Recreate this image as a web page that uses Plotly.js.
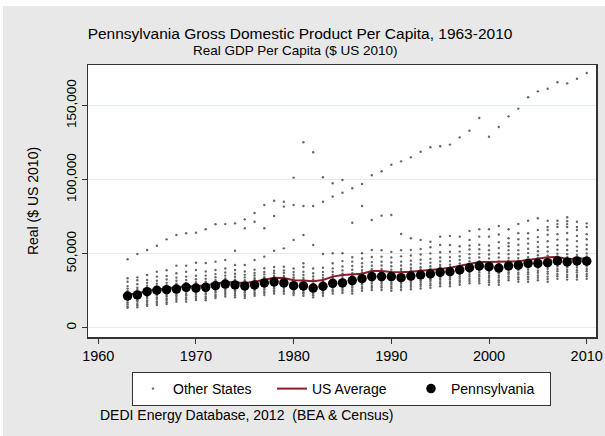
<!DOCTYPE html>
<html>
<head>
<meta charset="utf-8">
<script src="https://cdn.plot.ly/plotly-3.0.1.min.js"></script>
<style>
  html, body { margin: 0; padding: 0; background: #ffffff; }
  #chart { position: absolute; left: 3px; top: 6px; width: 602px; height: 430px; }
</style>
</head>
<body>
<div id="chart"></div>
<script>
// Years covered by the state series
const years = [1963, 1964, 1965, 1966, 1967, 1968, 1969, 1970, 1971, 1972,
  1973, 1974, 1975, 1976, 1977, 1978, 1979, 1980, 1981, 1982,
  1983, 1984, 1985, 1986, 1987, 1988, 1989, 1990, 1991, 1992,
  1993, 1994, 1995, 1996, 1997, 1998, 1999, 2000, 2001, 2002,
  2003, 2004, 2005, 2006, 2007, 2008, 2009, 2010];

// Pennsylvania real GDP per capita, thousands of 2010 dollars
const pennsylvaniaK = [21.4, 22.1, 24.3, 25.3, 25.7, 26.1, 27.3, 26.8, 27.3, 28.4,
  29.5, 28.9, 28.2, 28.9, 30.2, 30.9, 30.2, 28.4, 28.2, 26.8,
  28.0, 30.0, 30.2, 31.8, 33.1, 34.5, 34.5, 34.5, 33.8, 34.9,
  35.6, 36.3, 37.4, 37.8, 39.0, 40.5, 41.7, 41.2, 40.3, 41.7,
  42.2, 43.5, 43.5, 43.9, 45.1, 44.4, 45.1, 44.9];

// US average real GDP per capita, thousands of 2010 dollars
const usAverageK = [22.6, 23.0, 25.0, 25.9, 26.6, 27.3, 28.0, 28.0, 28.6, 29.5,
  30.9, 30.6, 30.2, 31.1, 32.7, 33.8, 33.6, 32.0, 31.8, 31.4,
  32.2, 34.5, 35.6, 36.3, 36.5, 38.3, 38.3, 37.6, 37.4, 37.8,
  38.3, 39.0, 39.7, 40.5, 41.7, 43.0, 44.4, 44.4, 44.4, 44.4,
  44.9, 45.7, 46.6, 47.6, 47.8, 46.4, 46.6, 46.9];

// Other states (and DC), one list per year, thousands of 2010 dollars
const otherStatesK = [
  [13.5, 14.4, 15.9, 17.0, 18.3, 19.1, 20.2, 21.1, 22.5, 23.4, 24.9, 26.4, 28.1, 31.0, 33.4, 46.2],
  [13.8, 15.1, 16.0, 17.6, 18.5, 19.9, 20.8, 21.9, 23.1, 24.0, 25.7, 27.0, 29.4, 32.0, 34.0, 49.8],
  [14.7, 15.8, 17.3, 18.3, 19.8, 20.7, 22.0, 22.9, 24.2, 25.4, 27.0, 28.4, 30.3, 32.3, 35.6, 52.5],
  [15.3, 16.7, 17.8, 19.3, 20.3, 21.7, 22.7, 24.0, 25.0, 26.5, 27.8, 29.7, 31.7, 34.5, 37.8, 55.4],
  [16.0, 17.2, 18.7, 19.8, 21.2, 22.2, 23.5, 24.5, 25.9, 27.1, 28.7, 30.3, 32.6, 35.0, 38.8, 59.7],
  [17.6, 18.9, 20.0, 21.4, 22.4, 23.8, 24.7, 26.1, 27.1, 28.6, 29.8, 31.7, 33.8, 36.8, 41.9, 62.6],
  [17.6, 19.1, 20.3, 21.8, 22.8, 24.2, 25.1, 26.5, 27.5, 29.0, 30.3, 32.3, 34.5, 37.8, 41.9, 63.8],
  [18.7, 20.0, 21.0, 22.4, 23.4, 24.7, 25.6, 26.9, 27.9, 29.4, 30.7, 32.7, 35.1, 39.0, 43.9, 64.2],
  [18.5, 19.9, 21.0, 22.5, 23.5, 24.9, 25.8, 27.2, 28.2, 29.7, 31.0, 33.0, 35.2, 38.0, 43.7, 66.5],
  [20.0, 21.3, 22.3, 23.7, 24.7, 26.1, 27.0, 28.3, 29.3, 30.8, 32.1, 34.1, 36.2, 39.0, 44.6, 69.9],
  [21.0, 22.3, 23.4, 24.8, 25.8, 27.1, 28.0, 29.4, 30.4, 31.9, 33.2, 35.2, 37.3, 40.0, 45.7, 70.0],
  [20.5, 21.8, 22.9, 24.3, 25.3, 26.6, 27.5, 28.8, 29.8, 31.3, 32.5, 34.4, 36.4, 39.0, 42.4, 52.0, 70.5],
  [20.0, 21.4, 22.5, 23.9, 24.9, 26.2, 27.1, 28.4, 29.4, 30.9, 32.1, 34.0, 35.7, 38.0, 42.4, 67.2, 73.2],
  [21.5, 22.8, 23.8, 25.2, 26.2, 27.5, 28.4, 29.7, 30.7, 32.2, 33.4, 35.3, 36.9, 39.2, 45.7, 71.6, 77.5],
  [22.0, 23.4, 24.5, 25.9, 26.9, 28.2, 29.1, 30.4, 31.4, 32.9, 34.1, 36.0, 37.7, 40.2, 48.0, 67.2, 82.9],
  [23.0, 24.3, 25.3, 26.7, 27.7, 29.0, 29.9, 31.2, 32.2, 33.7, 34.9, 36.8, 38.5, 41.0, 52.0, 75.5, 85.8],
  [23.0, 24.4, 25.4, 26.8, 27.8, 29.1, 30.0, 31.3, 32.3, 33.8, 35.0, 36.9, 38.7, 41.2, 53.6, 81.8, 85.1],
  [22.0, 23.3, 24.3, 25.7, 26.7, 28.0, 28.9, 30.2, 31.2, 32.7, 33.9, 35.8, 37.6, 40.0, 59.3, 82.9, 101.4],
  [21.5, 22.9, 23.9, 25.3, 26.3, 27.6, 28.5, 29.8, 30.8, 32.3, 33.6, 35.6, 37.8, 41.0, 43.5, 62.6, 82.2, 125.3],
  [20.5, 21.9, 22.9, 24.3, 25.3, 26.6, 27.5, 28.8, 29.8, 31.3, 32.6, 34.6, 36.8, 40.0, 55.9, 82.2, 118.5],
  [21.5, 22.9, 23.9, 25.3, 26.3, 27.6, 28.5, 29.9, 30.9, 32.4, 33.7, 35.7, 37.7, 40.5, 49.8, 85.1, 101.6],
  [23.0, 24.4, 25.5, 27.0, 28.0, 29.4, 30.3, 31.7, 32.7, 34.3, 35.7, 37.8, 40.1, 43.5, 50.3, 88.6, 97.6],
  [23.5, 25.0, 26.1, 27.6, 28.6, 30.0, 31.0, 32.4, 33.5, 35.1, 36.5, 38.7, 41.3, 45.0, 50.3, 91.2, 99.8],
  [23.0, 24.5, 25.7, 27.2, 28.3, 29.8, 30.9, 32.4, 33.6, 35.3, 36.8, 39.1, 41.7, 44.6, 47.6, 70.9, 94.2],
  [25.0, 26.5, 27.7, 29.3, 30.4, 31.9, 33.0, 34.5, 35.7, 37.4, 38.9, 41.2, 43.6, 46.7, 50.3, 82.2, 97.1],
  [25.5, 27.0, 28.2, 29.8, 31.0, 32.5, 33.6, 35.1, 36.3, 38.0, 39.5, 41.8, 44.3, 47.8, 52.5, 72.8, 103.0],
  [25.5, 27.1, 28.3, 29.9, 31.1, 32.6, 33.7, 35.2, 36.4, 38.1, 39.7, 42.0, 44.5, 48.0, 52.3, 75.7, 105.7],
  [25.0, 26.6, 27.8, 29.4, 30.6, 32.1, 33.2, 34.7, 35.9, 37.6, 39.2, 41.5, 44.0, 47.5, 51.2, 76.1, 110.1],
  [25.5, 27.1, 28.3, 29.9, 31.1, 32.6, 33.7, 35.2, 36.4, 38.1, 39.7, 42.0, 44.6, 48.2, 52.4, 63.3, 112.4],
  [26.0, 27.6, 28.8, 30.4, 31.6, 33.1, 34.2, 35.7, 36.9, 38.7, 40.3, 42.7, 45.3, 48.8, 52.6, 60.4, 115.1],
  [26.5, 28.1, 29.3, 30.9, 32.1, 33.6, 34.7, 36.3, 37.5, 39.3, 40.9, 43.3, 45.9, 49.4, 53.2, 59.3, 118.9],
  [27.0, 28.6, 29.9, 31.5, 32.7, 34.2, 35.3, 36.9, 38.1, 39.9, 41.5, 43.9, 46.5, 50.2, 54.3, 58.1, 121.9],
  [28.0, 29.6, 30.8, 32.4, 33.6, 35.1, 36.2, 37.8, 39.0, 40.8, 42.4, 44.8, 47.4, 51.0, 55.9, 61.5, 122.6],
  [28.0, 29.6, 30.9, 32.5, 33.7, 35.2, 36.4, 38.0, 39.2, 41.0, 42.6, 45.0, 47.7, 51.3, 55.9, 62.0, 123.7],
  [29.0, 30.5, 31.7, 33.3, 34.5, 36.0, 37.1, 38.7, 40.0, 41.8, 43.4, 45.8, 48.3, 51.4, 55.0, 61.5, 128.6],
  [30.0, 31.6, 32.9, 34.5, 35.7, 37.2, 38.3, 39.9, 41.2, 43.0, 44.7, 47.1, 49.7, 52.8, 55.5, 59.3, 65.3, 133.1],
  [30.0, 31.6, 32.9, 34.6, 35.8, 37.4, 38.6, 40.2, 41.5, 43.3, 45.0, 47.4, 49.9, 53.0, 56.0, 61.5, 66.5, 141.7],
  [29.0, 30.7, 32.0, 33.7, 35.0, 36.6, 37.8, 39.5, 40.8, 42.6, 44.3, 46.8, 49.4, 52.4, 55.5, 61.5, 66.5, 129.1],
  [29.0, 30.7, 32.1, 33.8, 35.1, 36.8, 38.0, 39.7, 41.1, 43.0, 44.8, 47.4, 50.2, 53.8, 57.8, 63.0, 68.7, 135.6],
  [32.0, 33.5, 34.7, 36.3, 37.5, 39.1, 40.3, 42.0, 43.4, 45.3, 47.1, 49.7, 52.4, 55.0, 57.2, 60.4, 66.5, 142.8],
  [31.0, 32.7, 34.1, 35.9, 37.2, 38.9, 40.1, 41.8, 43.2, 45.2, 47.0, 49.6, 52.4, 56.0, 59.8, 63.8, 70.1, 148.0],
  [31.0, 32.8, 34.3, 36.1, 37.5, 39.2, 40.5, 42.3, 43.8, 45.8, 47.7, 50.4, 53.3, 56.8, 60.2, 63.8, 72.3, 155.7],
  [32.0, 33.8, 35.3, 37.1, 38.5, 40.3, 41.6, 43.4, 44.9, 47.0, 48.9, 51.6, 54.5, 58.0, 61.2, 66.0, 73.9, 159.7],
  [31.0, 32.9, 34.5, 36.4, 37.9, 39.7, 41.1, 43.0, 44.6, 46.7, 48.7, 51.5, 54.5, 58.4, 62.8, 66.0, 68.0, 72.3, 161.5],
  [33.0, 34.8, 36.3, 38.2, 39.6, 41.4, 42.7, 44.5, 46.0, 48.1, 50.0, 52.7, 55.7, 59.5, 63.2, 68.0, 70.0, 72.3, 165.8],
  [32.5, 34.3, 35.8, 37.7, 39.1, 40.9, 42.3, 44.1, 45.6, 47.7, 49.7, 52.5, 55.5, 59.6, 64.0, 68.0, 70.0, 72.0, 74.6, 165.1],
  [32.5, 34.2, 35.6, 37.4, 38.8, 40.6, 41.9, 43.7, 45.2, 47.3, 49.2, 51.9, 54.8, 58.5, 62.0, 66.0, 68.0, 71.6, 168.2],
  [33.0, 34.8, 36.3, 38.2, 39.6, 41.4, 42.8, 44.6, 46.1, 48.2, 50.2, 53.0, 56.0, 59.8, 63.2, 68.0, 70.5, 172.1]
];

const toDollars = v => v * 1000;

// Flatten the per-year lists into x/y pairs for a single scatter trace
const otherX = [];
const otherY = [];
otherStatesK.forEach((vals, i) => {
  vals.forEach(v => { otherX.push(years[i]); otherY.push(toDollars(v)); });
});

const FONT = '"Liberation Sans", Arial, Helvetica, sans-serif';

const traces = [
  {
    name: 'Other States',
    type: 'scatter',
    mode: 'markers',
    x: otherX,
    y: otherY,
    marker: { size: 2.4, color: '#666666', line: { width: 0 } }
  },
  {
    name: 'US Average',
    type: 'scatter',
    mode: 'lines',
    x: years,
    y: usAverageK.map(toDollars),
    line: { color: '#8c1d28', width: 2 }
  },
  {
    name: 'Pennsylvania',
    type: 'scatter',
    mode: 'markers',
    x: years,
    y: pennsylvaniaK.map(toDollars),
    marker: { size: 9.5, color: '#000000', line: { width: 0 } }
  }
];

const layout = {
  width: 602,
  height: 430,
  margin: { l: 85, r: 9, t: 59, b: 99 },
  paper_bgcolor: '#e8e8e8',
  plot_bgcolor: '#ffffff',
  font: { family: FONT, color: '#000000', size: 14 },
  showlegend: true,
  title: {
    text: 'Pennsylvania Gross Domestic Product Per Capita, 1963-2010',
    font: { family: FONT, size: 15.5, color: '#000000' },
    x: 0.4934, xref: 'container', xanchor: 'center',
    y: 0.937, yref: 'container', yanchor: 'middle'
  },
  xaxis: {
    range: [1958.95, 2010.95],
    tickmode: 'array',
    tickvals: [1960, 1970, 1980, 1990, 2000, 2010],
    ticks: 'outside', ticklen: 5, tickwidth: 1, tickcolor: '#333333',
    tickfont: { family: FONT, size: 14.5, color: '#000000' },
    showgrid: false, zeroline: false,
    showline: true, linecolor: '#333333', linewidth: 1.5, mirror: true
  },
  yaxis: {
    range: [-6300, 177500],
    tickmode: 'array',
    tickvals: [0, 50000, 100000, 150000],
    tickformat: ',d',
    tickangle: -90,
    ticks: 'outside', ticklen: 5, tickwidth: 1, tickcolor: '#333333',
    tickfont: { family: FONT, size: 13.5, color: '#000000' },
    showgrid: true, gridcolor: '#e2eced', gridwidth: 1,
    zeroline: false,
    showline: true, linecolor: '#333333', linewidth: 1.5, mirror: true,
    title: { text: 'Real ($ US 2010)', standoff: 22, font: { family: FONT, size: 14, color: '#000000' } }
  },
  legend: {
    orientation: 'h',
    x: 0.0866, xanchor: 'left',
    y: -0.1287, yanchor: 'top',
    bgcolor: '#ffffff',
    bordercolor: '#333333',
    borderwidth: 1,
    font: { family: FONT, size: 14, color: '#000000' },
    entrywidth: 94,
    entrywidthmode: 'pixels',
    itemsizing: 'trace'
  },
  annotations: [
    {
      text: 'Real GDP Per Capita ($ US 2010)',
      xref: 'paper', yref: 'paper',
      x: 0.4085, y: 1.055, xanchor: 'center', yanchor: 'middle',
      showarrow: false,
      font: { family: FONT, size: 13.5, color: '#000000' }
    },
    {
      text: 'DEDI Energy Database, 2012\u00a0\u00a0(BEA & Census)',
      xref: 'paper', yref: 'paper',
      x: 0.0197, y: -0.2868, xanchor: 'left', yanchor: 'middle',
      showarrow: false,
      font: { family: FONT, size: 14, color: '#000000' }
    }
  ]
};

Plotly.newPlot('chart', traces, layout, { displayModeBar: false, staticPlot: true });
</script>
</body>
</html>
